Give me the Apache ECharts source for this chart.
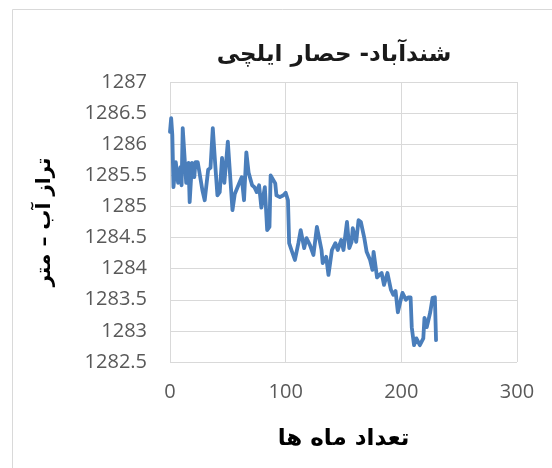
<!DOCTYPE html>
<html>
<head>
<meta charset="utf-8">
<script src="https://cdn.jsdelivr.net/npm/echarts@6/dist/echarts.min.js"></script>
<style>
html,body{margin:0;padding:0;background:#fff;}
#c{width:552px;height:468px;}
</style>
</head>
<body>
<div id="c"></div>
<script>
const titleText = 'شندآباد- حصار ایلچی';
const xName = 'تعداد ماه ها';
const yName = 'تراز آب – متر';
const xTicks = [0, 100, 200, 300];
const yTicks = [1282.5, 1283, 1283.5, 1284, 1284.5, 1285, 1285.5, 1286, 1286.5, 1287];

const months = [0,1,2,3,5,7,9,10,11,14,16,17,19,21,22,24,28,30,33,35,37,39,41,43,45,47,50,54,56,60,62,64,66,68,71,73,75,77,79,82,84,86,87,91,92,95,98,100,102,103,105,108,111,113,116,118,121,124,127,131,132,135,137,140,143,145,148,150,153,155,157,158,161,163,165,168,170,173,175,176,179,181,183,185,188,191,193,195,197,200,201,204,206,208,209,211,213,216,219,220,222,225,227,229,230];
const levels = [1286.20,1286.42,1286.15,1285.31,1285.71,1285.38,1285.63,1285.34,1286.26,1285.38,1285.70,1285.07,1285.70,1285.47,1285.71,1285.71,1285.26,1285.10,1285.59,1285.62,1286.26,1285.70,1285.18,1285.23,1285.78,1285.38,1286.04,1284.94,1285.20,1285.38,1285.47,1285.10,1285.87,1285.54,1285.34,1285.31,1285.23,1285.34,1284.98,1285.31,1284.62,1284.67,1285.50,1285.37,1285.18,1285.15,1285.18,1285.22,1285.10,1284.41,1284.30,1284.14,1284.41,1284.62,1284.33,1284.49,1284.38,1284.22,1284.67,1284.30,1284.09,1284.19,1283.90,1284.30,1284.41,1284.30,1284.46,1284.30,1284.75,1284.33,1284.43,1284.65,1284.43,1284.78,1284.75,1284.49,1284.27,1284.14,1283.98,1284.27,1283.86,1283.90,1283.93,1283.74,1283.93,1283.66,1283.58,1283.64,1283.30,1283.54,1283.61,1283.50,1283.54,1283.54,1283.06,1282.77,1282.88,1282.77,1282.88,1283.21,1283.06,1283.30,1283.53,1283.54,1282.85];

const seriesData = months.map((m, i) => [m, levels[i]]);

const chart = echarts.init(document.getElementById('c'), null, {renderer: 'canvas'});
const gridColor = '#d9d9d9';
const labelColor = '#595959';
const labelFont = 'Open Sans';
chart.setOption({
  animation: false,
  backgroundColor: '#ffffff',
  graphic: [{
    type: 'rect', left: 10, top: 7, z: -1,
    shape: {width: 600, height: 500},
    style: {fill: 'none', stroke: '#d9d9d9', lineWidth: 1}
  }],
  title: {
    text: titleText, left: 329, top: 39, textAlign: 'center',
    textStyle: {fontFamily: 'DejaVu Sans', fontWeight: 'bold', fontSize: 23, color: '#1a1a1a'}
  },
  grid: {left: 170, right: 35, top: 82, bottom: 106, containLabel: false, show: false},
  xAxis: {
    type: 'value', min: xTicks[0], max: xTicks[xTicks.length - 1], interval: 100,
    name: xName, nameLocation: 'middle', nameGap: 66,
    nameTextStyle: {fontFamily: 'DejaVu Sans', fontWeight: 'bold', fontSize: 23, color: '#000'},
    axisLine: {show: false}, axisTick: {show: false},
    axisLabel: {color: labelColor, fontSize: 20, fontFamily: labelFont, margin: 20,
      formatter: v => String(v)},
    splitLine: {show: true, lineStyle: {color: gridColor, width: 1}}
  },
  yAxis: {
    type: 'value', min: yTicks[0], max: yTicks[yTicks.length - 1], interval: 0.5,
    name: yName, nameLocation: 'middle', nameGap: 115, nameRotate: 90,
    nameTextStyle: {fontFamily: 'DejaVu Sans', fontWeight: 'bold', fontSize: 20, color: '#000'},
    axisLine: {show: false}, axisTick: {show: false},
    axisLabel: {color: labelColor, fontSize: 20, fontFamily: labelFont, margin: 23,
      formatter: v => String(v)},
    splitLine: {show: true, lineStyle: {color: gridColor, width: 1}}
  },
  series: [{
    type: 'line', data: seriesData, showSymbol: false, symbol: 'none',
    lineStyle: {color: '#4a7ebb', width: 3.8, join: 'round', cap: 'round'},
    clip: false
  }]
});
</script>
</body>
</html>
